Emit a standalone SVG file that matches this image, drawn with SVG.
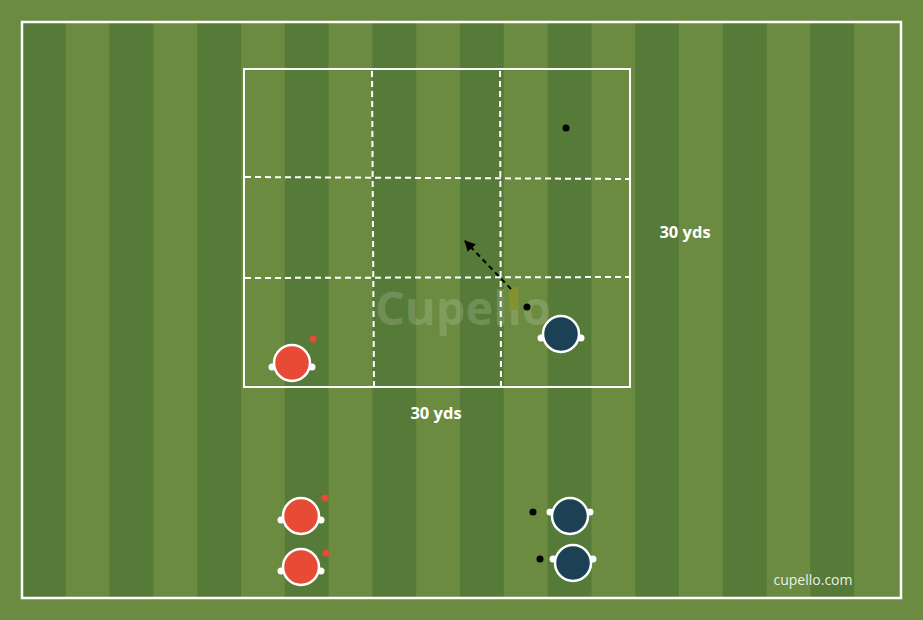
<svg xmlns="http://www.w3.org/2000/svg" width="923" height="620" viewBox="0 0 923 620">
<defs>
<style>
.dark{fill:#567a37}
.line{fill:none;stroke:#fff;stroke-width:2}
.dash{fill:none;stroke:#fff;stroke-width:2;stroke-dasharray:6 4}
.red{fill:#e84b35;stroke:#fff;stroke-width:2.5}
.blue{fill:#1c4154;stroke:#fff;stroke-width:2.5}
.hand{fill:#fff}
.ball{fill:#000}
.rdot{fill:#e84b35}
.lbl{font-family:"Open Sans","Liberation Sans",sans-serif;font-weight:700;font-size:16.5px;fill:#fff;text-anchor:middle}
</style>
<marker id="ah" viewBox="0 0 10 10" refX="9" refY="5" markerWidth="11" markerHeight="11" orient="auto" markerUnits="userSpaceOnUse">
<path d="M0,0 L10,5 L0,10 z" fill="#000"/>
</marker>
</defs>
<rect width="923" height="620" fill="#6a8b40"/>
<g id="stripes">
<rect class="dark" x="22" y="22" width="43.8" height="576"/>
<rect class="dark" x="109.6" y="22" width="43.8" height="576"/>
<rect class="dark" x="197.2" y="22" width="43.8" height="576"/>
<rect class="dark" x="284.8" y="22" width="43.8" height="576"/>
<rect class="dark" x="372.4" y="22" width="43.8" height="576"/>
<rect class="dark" x="460" y="22" width="43.8" height="576"/>
<rect class="dark" x="547.6" y="22" width="43.8" height="576"/>
<rect class="dark" x="635.2" y="22" width="43.8" height="576"/>
<rect class="dark" x="722.8" y="22" width="43.8" height="576"/>
<rect class="dark" x="810.4" y="22" width="43.8" height="576"/>
</g>
<rect x="22" y="22" width="879" height="576" fill="none" stroke="#fff" stroke-width="2.5"/>
<g id="grid">
<rect class="line" x="244" y="69" width="386" height="318"/>
<line class="dash" x1="372" y1="71" x2="374" y2="386"/>
<line class="dash" x1="500" y1="71" x2="501" y2="386"/>
<line class="dash" x1="245" y1="177" x2="629" y2="179"/>
<line class="dash" x1="245" y1="278" x2="629" y2="277"/>
</g>
<text x="463" y="325" font-family="'Open Sans','Liberation Sans',sans-serif" font-weight="700" font-size="47" fill="#fff" fill-opacity="0.17" text-anchor="middle">Cupello</text>
<rect id="pole" x="509" y="287" width="9" height="23" fill="#85902f"/>
<g id="connectors">
<line x1="511" y1="289" x2="465" y2="241" stroke="#000" stroke-width="2" stroke-dasharray="5 4" marker-end="url(#ah)"/>
</g>
<g id="balls">
<circle class="ball" cx="566" cy="128" r="3.5"/>
<circle class="ball" cx="527" cy="307" r="3.5"/>
<circle class="ball" cx="533" cy="512" r="3.5"/>
<circle class="ball" cx="540" cy="559" r="3.5"/>
<circle class="rdot" cx="313" cy="339" r="3.5"/>
<circle class="rdot" cx="325" cy="498" r="3.5"/>
<circle class="rdot" cx="326" cy="553" r="3.5"/>
</g>
<g id="red1" transform="translate(292,363)"><circle class="hand" cx="-20" cy="4" r="3.5"/><circle class="hand" cx="20" cy="4" r="3.5"/><circle class="red" r="18"/></g>
<g id="red2" transform="translate(301,516)"><circle class="hand" cx="-20" cy="4" r="3.5"/><circle class="hand" cx="20" cy="4" r="3.5"/><circle class="red" r="18"/></g>
<g id="red3" transform="translate(301,567)"><circle class="hand" cx="-20" cy="4" r="3.5"/><circle class="hand" cx="20" cy="4" r="3.5"/><circle class="red" r="18"/></g>
<g id="blue1" transform="translate(561,334)"><circle class="hand" cx="-20" cy="4" r="3.5"/><circle class="hand" cx="20" cy="4" r="3.5"/><circle class="blue" r="18"/></g>
<g id="blue2" transform="translate(570,516)"><circle class="hand" cx="-20" cy="-4" r="3.5"/><circle class="hand" cx="20" cy="-4" r="3.5"/><circle class="blue" r="18"/></g>
<g id="blue3" transform="translate(573,563)"><circle class="hand" cx="-20" cy="-4" r="3.5"/><circle class="hand" cx="20" cy="-4" r="3.5"/><circle class="blue" r="18"/></g>
<text class="lbl" x="685" y="238">30 yds</text>
<text class="lbl" x="436" y="419">30 yds</text>
<text x="813" y="585" font-family="'Open Sans','Liberation Sans',sans-serif" font-size="14" fill="#fff" fill-opacity="0.9" text-anchor="middle">cupello.com</text>
</svg>
